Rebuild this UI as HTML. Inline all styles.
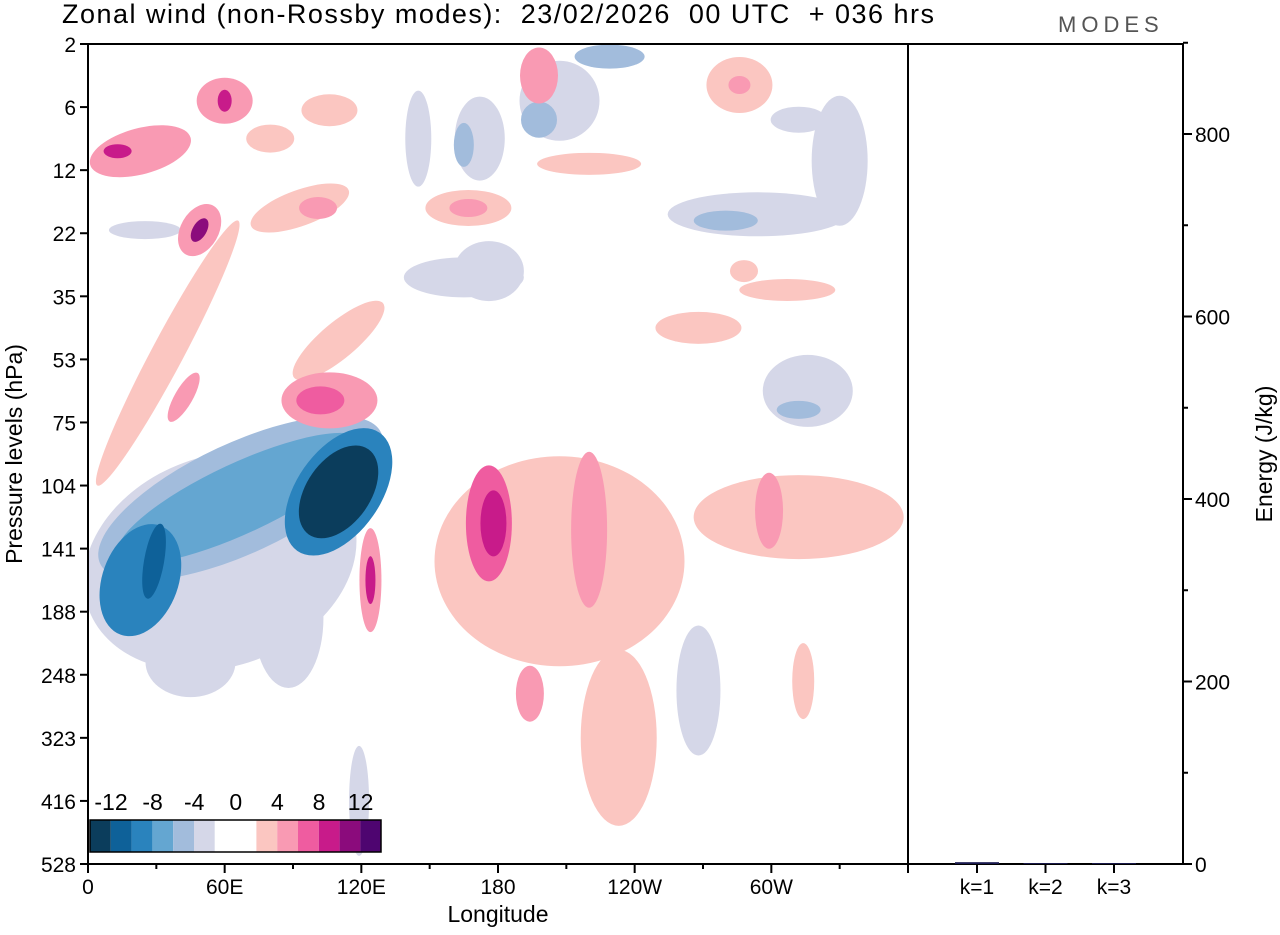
<!DOCTYPE html>
<html><head><meta charset="utf-8"><style>
body{margin:0;background:#fff;}
svg text{font-family:"Liberation Sans",sans-serif;}
</style></head><body>
<svg id="c" width="1280" height="930" xmlns="http://www.w3.org/2000/svg">
<g id="field"></g>
<g id="axes"></g>
<text x="62" y="23" font-size="27" fill="#000" style="white-space:pre" textLength="872" lengthAdjust="spacing">Zonal wind (non-Rossby modes):  23/02/2026  00 UTC  + 036 hrs</text>
<text x="1058" y="32" font-size="22" fill="#555" letter-spacing="5">MODES</text>
</svg>
<script>
const levels=["2","6","12","22","35","53","75","104","141","188","248","323","416","528"];
const lonTicks=["0","60E","120E","180","120W","60W"];
const energyTicks=["0","200","400","600","800"];
const waveLabels=["k=1","k=2","k=3"];
const energyValues=[2,1,1];
const legendLabels=["-12","-8","-4","0","4","8","12"];
// blobs: lon, level index, rx px, ry px, rotation, value
const blobs=[
[58,8.2,140,105,-20,-2],[88,9.1,35,70,0,-3],[45,9.8,45,35,0,-2],[119,12,10,55,0,-2],[268,10.25,22,65,0,-2],
[67,7.2,155,55,-25,-4],[67,7.2,135,35,-25,-6],[23,8.5,38,58,20,-8],[29,8.2,10,38,10,-10],
[110,7.1,42,72,35,-8],[110,7.1,32,52,35,-12],
[176,3.6,35,30,0,-3],[165,3.7,60,20,0,-2],[172,1.5,25,42,0,-2],[165,1.6,10,22,0,-4],
[207,0.9,40,40,0,-2],[198,1.2,18,18,0,-4],[229,0.2,35,12,0,-4],[294,2.7,90,22,0,-2],[280,2.8,32,10,0,-4],
[330,1.85,28,65,0,-2],[312,1.2,28,13,0,-2],[316,5.5,45,36,0,-2],[312,5.8,22,9,0,-4],[25,2.95,36,9,0,-2],[145,1.5,13,48,0,-2],
[207,8.2,125,105,0,3],[233,11,38,88,0,3],[312,7.5,105,42,0,3],[176,7.6,23,58,0,6],[178,7.6,13,33,0,9],
[220,7.7,18,78,0,5],[194,10.3,14,28,0,5],[124,8.5,11,52,0,5],[124,8.5,5,24,0,8],[299,7.4,14,38,0,5],[314,10.1,11,38,0,3],
[106,5.65,48,28,0,4],[102,5.65,24,14,0,6],[35,4.9,150,16,-62,3],[42,5.6,28,9,-60,5],[110,4.7,58,18,-40,3],
[23,1.7,52,23,-15,4],[31,1.55,24,11,-15,5],[13,1.7,14,7,0,8],[60,0.9,28,23,0,4],[60,0.9,7,11,0,8],
[49,2.95,19,28,30,5],[49,2.95,7,13,30,10],[93,2.6,52,18,-20,3],[101,2.6,19,11,0,5],[80,1.5,24,14,0,3],
[167,2.6,43,18,0,3],[167,2.6,19,9,0,5],[220,1.9,52,11,0,3],[198,0.5,19,28,0,4],[286,0.65,33,28,0,3],[286,0.65,11,9,0,5],
[268,4.5,43,16,0,3],[307,3.9,48,11,0,2.5],[288,3.6,14,11,0,3],[106,1.05,28,16,0,3]
];
const negC=["#d5d7e8","#a2bcdc","#64a6d1","#2a83bd","#0e6199","#0b3d5c"];
const posC=["#fbc6c1","#f99ab3","#ef5ca0","#c81b8a","#8b0b7c","#4e0570"];
const X0=88,X1=908,Y0=44,Y1=864;
const xs=l=>X0+l*(X1-X0)/360;
const ys=i=>Y0+i*(Y1-Y0)/13;
const NS="http://www.w3.org/2000/svg";
function mk(t,a,p){const e=document.createElementNS(NS,t);for(const k in a)e.setAttribute(k,a[k]);p.appendChild(e);return e;}
const field=document.getElementById('field'),axes=document.getElementById('axes');
function col(v){const k=Math.min(5,Math.floor(Math.abs(v)/2)-1);return k<0?null:(v<0?negC[k]:posC[k]);}
blobs.slice().sort((a,b)=>Math.abs(a[5])-Math.abs(b[5])).forEach(b=>{
 const c=col(b[5]);if(!c)return;
 const e=mk('ellipse',{cx:xs(b[0]),cy:ys(b[1]),rx:b[2],ry:b[3],fill:c,transform:`rotate(${b[4]} ${xs(b[0])} ${ys(b[1])})`},field);
 
 
});
mk('rect',{x:0,y:0,width:X0,height:930,fill:'#fff'},field);
mk('rect',{x:X1,y:0,width:372,height:930,fill:'#fff'},field);
mk('rect',{x:0,y:Y1,width:1280,height:66,fill:'#fff'},field);
mk('rect',{x:0,y:0,width:1280,height:Y0,fill:'#fff'},field);
mk('rect',{x:X0,y:Y0,width:X1-X0,height:Y1-Y0,fill:'none',stroke:'#000','stroke-width':2},axes);
mk('rect',{x:X1,y:Y0,width:1183-X1,height:Y1-Y0,fill:'none',stroke:'#000','stroke-width':2},axes);
levels.forEach((l,i)=>{const y=ys(i);mk('line',{x1:X0-8,x2:X0,y1:y,y2:y,stroke:'#000','stroke-width':2},axes);
 const t=mk('text',{x:X0-12,y:y+8,'font-size':21,'text-anchor':'end'},axes);t.textContent=l;
 });
for(let l=0;l<=360;l+=30){const x=xs(l);mk('line',{x1:x,x2:x,y1:Y1,y2:Y1+(l%60?5:9),stroke:'#000','stroke-width':2},axes);}
lonTicks.forEach((l,i)=>{const t=mk('text',{x:xs(i*60),y:Y1+30,'font-size':21,'text-anchor':'middle'},axes);t.textContent=l;
 });
const yt=mk('text',{x:498,y:922,'font-size':23,'text-anchor':'middle'},axes);yt.textContent='Longitude';

const ytt=mk('text',{x:22,y:454,'font-size':23,'text-anchor':'middle',transform:'rotate(-90 22 454)'},axes);ytt.textContent='Pressure levels (hPa)';

const ey=v=>Y1-v*(Y1-134)/800;
for(let v=0;v<=900;v+=100){mk('line',{x1:1183,x2:1183+(v%200?5:9),y1:ey(v),y2:ey(v),stroke:'#000','stroke-width':2},axes);}
energyTicks.forEach(s=>{const t=mk('text',{x:1195,y:ey(+s)+8,'font-size':21},axes);t.textContent=s;
 });
const et=mk('text',{x:1272,y:454,'font-size':23,'text-anchor':'middle',transform:'rotate(-90 1272 454)'},axes);et.textContent='Energy (J/kg)';

waveLabels.forEach((w,i)=>{const x=977+i*68.5;
 mk('line',{x1:x,x2:x,y1:Y1,y2:Y1+9,stroke:'#000','stroke-width':2},axes);
 const b=mk('rect',{x:x-22,y:ey(energyValues[i]),width:44,height:Y1-ey(energyValues[i]),fill:'#1a1a50'},axes);
 
 const t=mk('text',{x:x,y:Y1+30,'font-size':21,'text-anchor':'middle'},axes);t.textContent=w;
 });
// legend
const lg=mk('g',{},axes);
const lc=[...negC.slice().reverse(),"#ffffff","#ffffff",...posC];
lc.forEach((c,i)=>mk('rect',{x:90+i*20.8,y:820,width:20.8,height:32,fill:c},lg));
mk('rect',{x:90,y:820,width:291,height:32,fill:'none',stroke:'#000','stroke-width':1.5},lg);
legendLabels.forEach((s,i)=>{const t=mk('text',{x:111+i*41.6,y:810,'font-size':23,'text-anchor':'middle'},lg);t.textContent=s;
 });
</script>
</body></html>
